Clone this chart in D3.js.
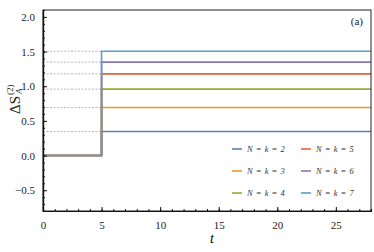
<!DOCTYPE html>
<html>
<head>
<meta charset="utf-8">
<script src="https://cdn.jsdelivr.net/npm/d3@7"></script>
<style>
  body { margin: 0; background: #fff; }
  svg text { font-family: "Liberation Serif"; }
</style>
</head>
<body>
<div class="chart"></div>
<script>
// step chart: entanglement jump at t = 5
const seriesNames = ['N = k = 2', 'N = k = 3', 'N = k = 4', 'N = k = 5', 'N = k = 6', 'N = k = 7'];
const levels = [0.347, 0.693, 0.958, 1.179, 1.348, 1.504];
const colors = ['#5E81B5', '#E19C24', '#8FB032', '#EB6235', '#8778B3', '#5D9EC7'];
const jumpTime = 5;
const tMax = 28;
const xTicks = [0, 5, 10, 15, 20, 25];
const yTicks = [-0.5, 0.0, 0.5, 1.0, 1.5, 2.0];

const serif = '"Liberation Serif"';

const margin = { top: 10, right: 3, bottom: 41, left: 43 };
const width = 374 - margin.left - margin.right;
const height = 252 - margin.top - margin.bottom;

const svg = d3.select('.chart')
  .append('svg')
    .attr('width', 374)
    .attr('height', 252)
  .append('g')
    .attr('transform', `translate(${margin.left}, ${margin.top})`);

const xScale = d3.scaleLinear().domain([0, tMax]).range([0, width]);
const yScale = d3.scaleLinear().domain([-0.8, 2.1]).range([height, 0]);

// dashed guides from the y axis to the jump
svg.selectAll('.guide')
  .data(levels)
  .enter()
  .append('line')
    .attr('x1', 0)
    .attr('x2', xScale(jumpTime))
    .attr('y1', d => yScale(d))
    .attr('y2', d => yScale(d))
    .style('stroke', '#999')
    .style('stroke-width', 0.7)
    .style('stroke-dasharray', '2,1.5');

// step lines
const drawLine = d3.line()
  .x(d => xScale(d[0]))
  .y(d => yScale(d[1]));

svg.selectAll('.line')
  .data(levels)
  .enter()
  .append('path')
    .attr('d', d => drawLine([[0, 0], [jumpTime, 0], [jumpTime, d], [tMax, d]]))
    .style('stroke', (d, i) => colors[i])
    .style('stroke-width', 1.6)
    .style('fill', 'none');

// frame
svg.append('rect')
  .attr('width', width)
  .attr('height', height)
  .style('fill', 'none')
  .style('stroke', '#222')
  .style('stroke-width', 1);

// axes with inward ticks
const xAxis = svg.append('g')
  .attr('transform', `translate(0, ${height})`)
  .call(d3.axisBottom(xScale).tickValues(xTicks).tickSizeInner(-4).tickSizeOuter(0).tickPadding(10));
xAxis.append('g')
  .call(d3.axisBottom(xScale).tickValues(d3.range(0, tMax + 1, 1)).tickSize(-2).tickFormat(''));

const yAxis = svg.append('g')
  .call(d3.axisLeft(yScale).tickValues(yTicks).tickSizeInner(-4).tickSizeOuter(0).tickPadding(8)
    .tickFormat(d => d3.format('.1f')(d).replace('-', '\u2212')));
yAxis.append('g')
  .call(d3.axisLeft(yScale).tickValues(d3.range(-8, 22, 1).map(v => v / 10)).tickSize(-2).tickFormat(''));

svg.selectAll('g').attr('font-family', serif);
svg.selectAll('.domain').style('stroke', '#111').style('stroke-width', 1.2);
svg.selectAll('.tick line').style('stroke', '#111');
svg.selectAll('.tick text').style('font-size', '11px').style('fill', '#222')
  .style('font-family', serif);

// axis labels
svg.append('text')
  .attr('x', width / 2 + 5)
  .attr('y', height + 32)
  .style('font-size', '14px')
  .style('font-style', 'italic')
  .style('text-anchor', 'middle')
  .text('t');

const yLabel = svg.append('g')
  .attr('transform', `translate(${20 - margin.left}, ${114 - margin.top}) rotate(-90)`)
  .style('fill', '#222');
yLabel.append('text').attr('x', 0).attr('y', 0).style('font-size', '15px').text('ΔS');
yLabel.append('text').attr('x', 19).attr('y', -7).style('font-size', '9px').text('(2)');
yLabel.append('text').attr('x', 20).attr('y', 2).style('font-size', '9px').style('font-style', 'italic').text('A');

svg.append('text')
  .attr('x', width - 8)
  .attr('y', 15)
  .style('font-size', '11px')
  .style('fill', '#222')
  .style('text-anchor', 'end')
  .text('(a)');

// legend
const legend = svg.selectAll('.legend')
  .data(seriesNames)
  .enter()
  .append('g')
    .attr('transform', (d, i) => `translate(${189 + Math.floor(i / 3) * 69}, ${139 + (i % 3) * 22})`);

legend.append('line')
  .attr('x1', 0)
  .attr('x2', 10)
  .style('stroke', (d, i) => colors[i])
  .style('stroke-width', 1.6);

legend.append('text')
  .attr('x', 15)
  .attr('y', 3)
  .style('font-size', '8.5px')
  .style('font-style', 'italic')
  .style('word-spacing', '1px')
  .style('fill', '#333')
  .text(d => d);
</script>
</body>
</html>
